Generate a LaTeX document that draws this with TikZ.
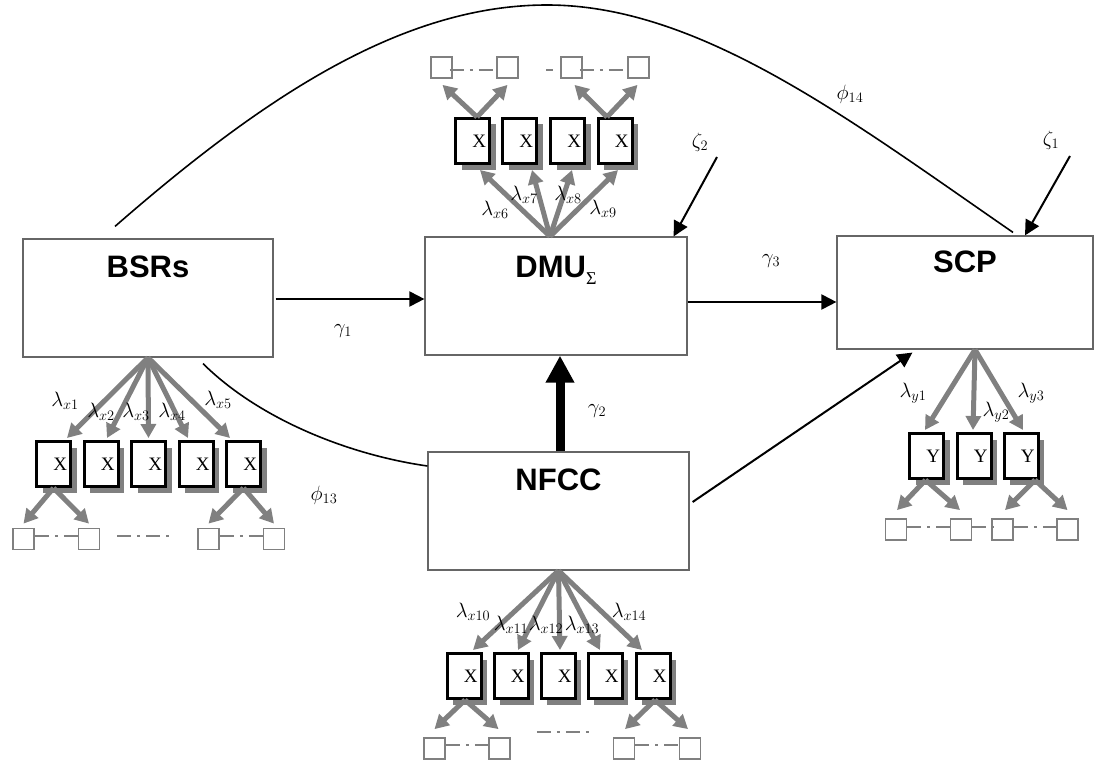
\documentclass[tikz,border=0pt]{standalone}
\usepackage{fontspec}
\setmainfont{Liberation Serif}
\newfontfamily\hv{Liberation Sans}
\usetikzlibrary{arrows.meta,calc,shadows}
\begin{document}
\begin{tikzpicture}[x=1pt,y=-1pt,
  lat/.style={draw=black!60, line width=1.2pt, inner sep=0, fill=white},
  ttl/.style={font=\hv\bfseries\fontsize{31}{33}\selectfont, inner sep=0, anchor=base},
  ind/.style={draw=black, line width=3pt, fill=white, minimum width=34pt, minimum height=45pt, inner sep=0, font=\fontsize{19}{20}\selectfont, drop shadow={shadow xshift=6pt, shadow yshift=-6pt, fill=gray, opacity=1}},
  sq/.style={draw=gray, line width=1.8pt, fill=white, minimum size=21pt, inner sep=0},
  ld/.style={draw=gray, line width=5pt, -{Triangle[length=14pt,width=15pt]}},
  dd/.style={draw=gray, line width=1.5pt, dash pattern=on 14pt off 6pt on 3pt off 6pt},
  pa/.style={draw=black, line width=2pt, -{Triangle[length=15pt,width=15pt]}},
  lab/.style={font=\fontsize{20.74}{22}\selectfont, inner sep=0},
  cur/.style={draw=black, line width=1.6pt}
]
\useasboundingbox (0,0) rectangle (1094,773);

% latent variables
\node[lat, minimum width=250pt, minimum height=118pt] (bsr) at (148,298) {};
\node[lat, minimum width=262pt, minimum height=118pt] (dmu) at (556,296) {};
\node[lat, minimum width=256pt, minimum height=113pt] (scp) at (965,292.5) {};
\node[lat, minimum width=261pt, minimum height=118pt] (nfcc) at (558.5,511) {};

\node[ttl] (tbsr) at (148,277) {BSRs};
\node[ttl] (tdmu) at (556,277) {DMU\raisebox{-7pt}{\rmfamily\mdseries\fontsize{18}{18}\selectfont Σ}};
\node[ttl] (tscp) at (965,272) {SCP};
\node[ttl] (tnfcc) at (558.5,490) {NFCC};

% indicators BSRs
\foreach \i/\x in {1/53.5,2/101,3/148.5,4/196,5/243.5}
  \node[ind] (bx\i) at (\x,464) {\makebox[27pt][r]{X}};
\foreach \i/\x in {1/23.5,2/89,3/208.5,4/274}
  \node[sq] (bs\i) at (\x,539) {};
\foreach \i/\dx in {1/13.5,2/6,3/0,4/-8,5/-13.5}
  \draw[ld] (bsr.south) -- ($(bx\i.north)+(\dx,-2)$);
\draw[ld] (bx1.south) -- ($(bs1.north)+(0,-4)$);
\draw[ld] (bx1.south) -- ($(bs2.north)+(0,-4)$);
\draw[ld] (bx5.south) -- ($(bs3.north)+(0,-4)$);
\draw[ld] (bx5.south) -- ($(bs4.north)+(0,-4)$);
\draw[dd] ($(bs1.east)+(0,-3)$) -- ($(bs2.west)+(4,-3)$);
\draw[dd] ($(bs2.east)+(17,-3)$) -- ($(bs3.west)+(-27,-3)$);
\draw[dd] ($(bs3.east)+(0,-3)$) -- ($(bs4.west)+(4,-3)$);

% indicators DMU
\foreach \i/\x in {1/472.5,2/519.5,3/567.5,4/615}
  \node[ind] (dx\i) at (\x,141) {\makebox[27pt][r]{X}};
\foreach \i/\x in {1/441.5,2/507.5,3/571.5,4/638.5}
  \node[sq] (ds\i) at (\x,67.5) {};
\foreach \i/\dx in {1/7.5,2/12.5,3/4.5,4/3}
  \draw[ld] ($(dmu.north)+(-6,0)$) -- ($(dx\i.south)+(\dx,5)$);
\draw[ld] ($(dx1.north)+(4.5,0)$) -- ($(ds1.south)+(1,6)$);
\draw[ld] ($(dx1.north)+(4.5,0)$) -- ($(ds2.south)+(0,6)$);
\draw[ld] ($(dx4.north)+(-8,0)$) -- ($(ds3.south)+(3,6)$);
\draw[ld] ($(dx4.north)+(-8,0)$) -- ($(ds4.south)+(-1,6)$);
\draw[dd] ($(ds1.east)+(-3,2.5)$) -- ($(ds2.west)+(0,2.5)$);
\draw[gray, line width=1.5pt] ($(ds3.west)+(-14,2.5)$) -- ($(ds3.west)+(-7,2.5)$);
\draw[dd] ($(ds3.east)+(-3,2.5)$) -- ($(ds4.west)+(0,2.5)$);

% indicators NFCC
\foreach \i/\x in {1/464,2/511,3/558,4/605,5/653}
  \node[ind] (nx\i) at (\x,676) {\makebox[27pt][r]{X}};
\foreach \i/\x in {1/434.5,2/499.5,3/624,4/690}
  \node[sq] (ns\i) at (\x,748.5) {};
\foreach \i/\dx in {1/9,2/7,3/2,4/-5,5/-11}
  \draw[ld] (nfcc.south) -- ($(nx\i.north)+(\dx,-2)$);
\draw[ld] ($(nx1.south)+(1,0)$) -- ($(ns1.north)+(0,-8)$);
\draw[ld] ($(nx1.south)+(1,0)$) -- ($(ns2.north)+(-1,-8)$);
\draw[ld] ($(nx5.south)+(2,0)$) -- ($(ns3.north)+(1,-8)$);
\draw[ld] ($(nx5.south)+(2,0)$) -- ($(ns4.north)+(-2,-8)$);
\draw[dd] ($(ns1.east)+(0,-3.5)$) -- ($(ns2.west)+(4,-3.5)$);
\draw[dd] ($(ns2.east)+(26,-16.5)$) -- ($(ns3.west)+(-24,-16.5)$);
\draw[dd] ($(ns3.east)+(0,-3.5)$) -- ($(ns4.west)+(4,-3.5)$);

% indicators SCP
\foreach \i/\x in {1/926.5,2/974,3/1021}
  \node[ind] (yx\i) at (\x,456) {\makebox[27pt][r]{Y}};
\foreach \i/\x in {1/896,2/961,3/1002.5,4/1067.5}
  \node[sq] (ys\i) at (\x,529.5) {};
\foreach \i/\dx in {1/-1.5,2/-1,3/2}
  \draw[ld] ($(scp.south)+(10,0)$) -- ($(yx\i.north)+(\dx,-2)$);
\draw[ld] ($(yx1.south)+(-1,0)$) -- ($(ys1.north)+(1,-8)$);
\draw[ld] ($(yx1.south)+(-1,0)$) -- ($(ys2.north)+(-1,-8)$);
\draw[ld] ($(yx3.south)+(14,0)$) -- ($(ys3.north)+(2.5,-8)$);
\draw[ld] ($(yx3.south)+(14,0)$) -- ($(ys4.north)+(0,-8)$);
\draw[dd] ($(ys1.east)+(0,-2.5)$) -- ($(ys2.west)+(3,-2.5)$);
\draw[dd] ($(ys2.east)+(0,-2.5)$) -- ($(ys3.west)+(3,-2.5)$);
\draw[dd] ($(ys3.east)+(0,-2.5)$) -- ($(ys4.west)+(3,-2.5)$);

% structural paths
\draw[pa] ($(bsr.east)+(2,1)$) -- ($(dmu.west)+(0,3)$);
\draw[pa] ($(dmu.east)+(0,6)$) -- ($(scp.west)+(0,9.5)$);
\draw[line width=9pt, -{Triangle[length=27pt,width=27pt]}] ($(nfcc.north)+(1.5,0)$) -- ($(dmu.south)+(4,0)$);
\draw[pa] ($(nfcc.east)+(3,-9)$) -- ($(scp.south west)+(76,3)$);

% disturbances
\node[lab] (zeta2) at (700,142) {$\zeta_2$};
\coordinate (z2a) at (717,157);
\draw[pa] (z2a) -- ($(dmu.north east)+(-14,0)$);
\node[lab] (zeta1) at (1051,140) {$\zeta_1$};
\coordinate (z1a) at (1070,156);
\draw[pa] (z1a) -- ($(scp.north)+(60,0)$);

% covariances
\coordinate (c14a) at ($(bsr.north)+(-33,-12)$);
\coordinate (c14b) at ($(scp.north)+(48,-3)$);
\draw[cur] (c14a) .. controls (260,100) and (400,5) .. (547,5) .. controls (700,5) and (850,120) .. (c14b);
\coordinate (c13a) at ($(bsr.south)+(55,6)$);
\coordinate (c13b) at ($(nfcc.west)+(0,-45)$);
\draw[cur] (c13a) .. controls (260,420) and (350,455) .. (c13b);

% labels
\node[lab] (g1) at (343,331) {$\gamma_1$};
\node[lab] (g2) at (597,411) {$\gamma_2$};
\node[lab] (g3) at (771,261) {$\gamma_3$};
\node[lab] (p14) at (850,94) {$\phi_{14}$};
\node[lab] (p13) at (324,495) {$\phi_{13}$};
\node[lab] (l1) at (65,401) {$\lambda_{x1}$};
\node[lab] (l2) at (101,412) {$\lambda_{x2}$};
\node[lab] (l3) at (136,412) {$\lambda_{x3}$};
\node[lab] (l4) at (172,412) {$\lambda_{x4}$};
\node[lab] (l5) at (218,400) {$\lambda_{x5}$};
\node[lab] (l6) at (495,210) {$\lambda_{x6}$};
\node[lab] (l7) at (524,195) {$\lambda_{x7}$};
\node[lab] (l8) at (568,195) {$\lambda_{x8}$};
\node[lab] (l9) at (603,209) {$\lambda_{x9}$};
\node[lab] (l10) at (473,612) {$\lambda_{x10}$};
\node[lab] (l11) at (511,625) {$\lambda_{x11}$};
\node[lab] (l12) at (546,625) {$\lambda_{x12}$};
\node[lab] (l13) at (582,625) {$\lambda_{x13}$};
\node[lab] (l14) at (629,612) {$\lambda_{x14}$};
\node[lab] (ly1) at (913,393) {$\lambda_{y1}$};
\node[lab] (ly2) at (996,412) {$\lambda_{y2}$};
\node[lab] (ly3) at (1031,393) {$\lambda_{y3}$};
\end{tikzpicture}
\end{document}
